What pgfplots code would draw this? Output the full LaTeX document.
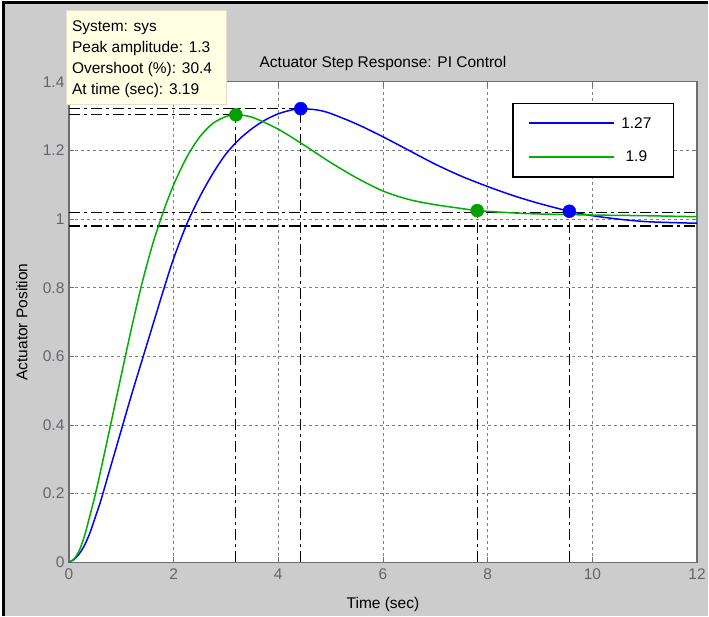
\documentclass[border=0pt]{standalone}
\usepackage{fontspec}
\setmainfont{Liberation Sans}
\usepackage{pgfplots}
\pgfplotsset{compat=1.18}
\definecolor{figbg}{RGB}{204,204,204}
\definecolor{axgray}{RGB}{110,110,110}
\definecolor{tickgray}{RGB}{100,100,108}
\definecolor{gridgray}{RGB}{128,128,128}
\definecolor{mblue}{RGB}{0,0,255}
\definecolor{mgreen}{RGB}{0,175,0}
\definecolor{tipbg}{RGB}{255,255,228}
\definecolor{tipframe}{RGB}{225,225,205}
\begin{document}
\begin{tikzpicture}[font=\fontsize{15.5}{18}\selectfont]
\fill[white] (0pt,0pt) rectangle (709pt,-617pt);
\fill[figbg] (3pt,-3pt) rectangle (709pt,-617pt);
\fill[black] (2pt,-1.5pt) rectangle (709pt,-4.5pt);
\fill[black] (2pt,-1.5pt) rectangle (5pt,-617pt);
\begin{axis}[
  at={(69pt,-563pt)}, anchor=south west,
  scale only axis, width=629pt, height=481pt,
  xmin=0, xmax=12, ymin=0, ymax=1.4,
  xtick={0,2,4,6,8,10,12},
  ytick={0,0.2,0.4,0.6,0.8,1,1.2,1.4},
  /pgf/number format/assume math mode=true,
  every tick label/.append style={font=\fontsize{15.5}{18}\selectfont, text=tickgray},
  xticklabel style={yshift=-3pt},
  yticklabel style={xshift=-1pt},
  axis background/.style={fill=white},
  axis line style={draw=axgray, line width=1.2pt},
  tick style={draw=axgray, line width=0.8pt},
  major tick length=5pt,
  tick align=inside,
  grid=major,
  major grid style={draw=gridgray, dash pattern=on 3pt off 3pt, line width=0.8pt},
  title={Actuator Step Response: PI Control},
  xlabel={Time (sec)},
  ylabel={Actuator Position},
  every axis title/.style={at={(axis description cs:0.5,1.029)}, anchor=base},
  every axis x label/.style={at={(axis description cs:0.5,-0.0956)}, anchor=base},
  every axis y label/.style={at={(axis description cs:-0.066,0.5)}, rotate=90, anchor=base},
  legend style={at={(0.7059,0.9563)}, anchor=north west, draw=black, line width=1.2pt,
    fill=white, inner xsep=15pt, inner ysep=12pt, row sep=17pt,
    font=\fontsize{15.5}{18}\selectfont},
  clip=true,
]
\addlegendimage{legend image code/.code={\draw[color=mblue, line width=1.6pt] (0pt,0.5pt) -- (85pt,0.5pt);}}
\addlegendimage{legend image code/.code={\draw[color=mgreen, line width=1.6pt] (0pt,0pt) -- (85pt,0pt);}}
% settling / peak reference lines
\pgfplotsset{refline/.style={forget plot, black, line width=1.2pt, dash pattern=on 11pt off 4pt on 3pt off 4pt}}
\addplot[refline] coordinates {(0,1.322) (4.43,1.322)};
\addplot[refline] coordinates {(0,1.304) (3.19,1.304)};
\addplot[refline] coordinates {(0,1.02) (12,1.02)};
\addplot[refline] coordinates {(0,0.98) (12,0.98)};
\addplot[refline] coordinates {(3.19,0) (3.19,1.304)};
\addplot[refline] coordinates {(4.43,0) (4.43,1.322)};
\addplot[refline] coordinates {(7.8,0) (7.8,1.02)};
\addplot[refline] coordinates {(9.56,0) (9.56,1.02)};
% responses
\addplot[forget plot, mblue, line width=1.5pt, smooth] coordinates {
(0,0) (0.1,0.008) (0.2,0.025) (0.3,0.05) (0.4,0.085) (0.5,0.13) (0.6,0.175)
(0.8,0.28) (1.0,0.385) (1.2,0.49) (1.4,0.59) (1.6,0.69) (1.8,0.79) (2.0,0.885)
(2.25,0.985) (2.5,1.065) (2.75,1.133) (3.0,1.19) (3.25,1.232) (3.5,1.264)
(3.75,1.289) (4.0,1.307) (4.25,1.318) (4.43,1.322) (4.75,1.318) (5.0,1.308)
(5.5,1.277) (6.0,1.24) (6.5,1.2) (7.0,1.16) (7.5,1.125) (8.0,1.095) (8.5,1.068)
(9.0,1.045) (9.56,1.023) (10.0,1.01) (10.5,1.0) (11.0,0.993) (11.5,0.99) (12.0,0.988)
};
\addplot[forget plot, mgreen, line width=1.5pt, smooth] coordinates {
(0,0) (0.1,0.01) (0.2,0.035) (0.3,0.078) (0.4,0.135) (0.5,0.195) (0.6,0.262)
(0.8,0.403) (1.0,0.545) (1.2,0.685) (1.4,0.815) (1.6,0.927) (1.8,1.02) (2.0,1.1)
(2.25,1.18) (2.5,1.24) (2.75,1.279) (3.0,1.299) (3.19,1.304) (3.5,1.297)
(4.0,1.262) (4.5,1.215) (5.0,1.165) (5.5,1.12) (6.0,1.082) (6.5,1.057)
(7.0,1.042) (7.5,1.031) (7.8,1.025) (8.5,1.018) (9.0,1.015) (10.0,1.012)
(11.0,1.01) (12.0,1.007)
};
% characteristic points
\addplot[forget plot, only marks, mark=*, mark size=6.5pt, mblue, mark options={fill=mblue, draw=mblue}]
  coordinates {(4.43,1.322) (9.56,1.023)};
\addplot[forget plot, only marks, mark=*, mark size=6.5pt, mgreen!92!black, mark options={fill=mgreen!92!black, draw=mgreen!92!black}]
  coordinates {(3.19,1.304) (7.8,1.025)};
\legend{\makebox[40pt]{1.27}\hspace{8pt}, \makebox[40pt]{1.9}\hspace{8pt}}
\end{axis}
% data tip
\fill[tipbg, draw=tipframe, line width=0.8pt] (66pt,-10pt) rectangle (227pt,-105pt);
\node[anchor=base west, inner sep=0pt] at (72pt,-31.5pt) {System: sys};
\node[anchor=base west, inner sep=0pt] at (72pt,-52.5pt) {Peak amplitude: 1.3};
\node[anchor=base west, inner sep=0pt] at (72pt,-73.5pt) {Overshoot (\%): 30.4};
\node[anchor=base west, inner sep=0pt] at (72pt,-94.5pt) {At time (sec): 3.19};
\useasboundingbox (0pt,0pt) rectangle (709pt,-617pt);
\end{tikzpicture}
\end{document}
